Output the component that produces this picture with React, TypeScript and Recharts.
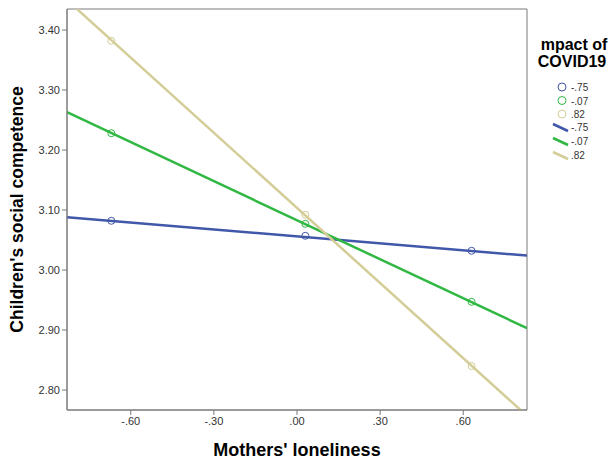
import React from 'react';
import { ComposedChart, Line, Scatter, XAxis, YAxis, Legend, Label, ReferenceArea } from 'recharts';

// fitted lines span the full x range of the plot
const lineX = [-0.83, 0.83];
const lowImpactLine = [3.088, 3.024];
const midImpactLine = [3.263, 2.903];
const highImpactLine = [3.45, 2.757];

// observed cell means at mothers' loneliness -1SD, mean, +1SD
const pointX = [-0.67, 0.03, 0.63];
const lowImpactPoints = [3.082, 3.057, 3.032];
const midImpactPoints = [3.228, 3.077, 2.947];
const highImpactPoints = [3.382, 3.092, 2.84];

const xTicks = [-0.6, -0.3, 0, 0.3, 0.6];
const yTicks = [2.8, 2.9, 3.0, 3.1, 3.2, 3.3, 3.4];
const groups = ['-.75', '-.07', '.82'];

const X_DOMAIN = [-0.83, 0.83];
const Y_DOMAIN = [2.7667, 3.435];

const COLORS = ['#4157a9', '#30b843', '#d4cd98'];
const FONT = '"Liberation Sans", Arial, sans-serif';

const toRows = (xs: number[], ys: number[]) => xs.map((x, i) => ({ x, y: ys[i] }));

const lines = [lowImpactLine, midImpactLine, highImpactLine].map(v => toRows(lineX, v));
const points = [lowImpactPoints, midImpactPoints, highImpactPoints].map(v => toRows(pointX, v));

const fmtX = (v: number) => v.toFixed(2).replace(/^(-?)0\./, '$1.');
const fmtY = (v: number) => v.toFixed(2);

const Ring = (color: string) => (props: any) => (
  <circle cx={props.cx} cy={props.cy} r={3.5} fill="none" stroke={color} strokeWidth={1} />
);

function LegendBox() {
  return (
    <svg width={84} height={170} style={{ fontFamily: FONT, display: 'block' }}>
      <text x={47} y={50} textAnchor="middle" fontSize={16} fontWeight="bold" fill="#000">mpact of</text>
      <text x={45} y={67} textAnchor="middle" fontSize={16} fontWeight="bold" fill="#000">COVID19</text>
      {groups.map((g, i) => (
        <g key={'c' + g}>
          <circle cx={35} cy={87 + i * 13.5} r={4} fill="none" stroke={COLORS[i]} strokeWidth={1} />
          <text x={44} y={91 + i * 13.5} fontSize={10} fill="#333">{g}</text>
        </g>
      ))}
      {groups.map((g, i) => (
        <g key={'l' + g}>
          <line x1={26} y1={124 + i * 14} x2={41} y2={131 + i * 14} stroke={COLORS[i]} strokeWidth={2.5} />
          <text x={44} y={131 + i * 14} fontSize={10} fill="#333">{g}</text>
        </g>
      ))}
    </svg>
  );
}

export default function App() {
  return (
    <div style={{ position: 'absolute', left: 0, top: 0, width: 611, height: 460, background: '#fff' }}>
      <ComposedChart
        width={611}
        height={460}
        margin={{ top: 9, right: 0, bottom: 0, left: 0 }}
        style={{ fontFamily: FONT }}
      >
        <XAxis
          xAxisId="b"
          dataKey="x"
          type="number"
          domain={X_DOMAIN}
          allowDataOverflow
          ticks={xTicks}
          tickFormatter={fmtX}
          height={50}
          stroke="#7a7a7a"
          tickSize={5}
          tick={{ fill: '#333', fontSize: 11 }}
        >
          <Label value="Mothers' loneliness" position="insideBottom" offset={4} style={{ fontSize: 18, fontWeight: 'bold', fill: '#000' }} />
        </XAxis>
        <YAxis
          yAxisId="l"
          type="number"
          domain={Y_DOMAIN}
          allowDataOverflow
          ticks={yTicks}
          tickFormatter={fmtY}
          width={67}
          stroke="#7a7a7a"
          tickSize={5}
          tick={{ fill: '#333', fontSize: 11 }}
        >
          <Label value="Children's social competence" angle={-90} position="insideLeft" offset={17} style={{ textAnchor: 'middle', fontSize: 17.5, fontWeight: 'bold', fill: '#000' }} />
        </YAxis>
        <ReferenceArea
          xAxisId="b"
          yAxisId="l"
          x1={X_DOMAIN[0]}
          x2={X_DOMAIN[1]}
          y1={Y_DOMAIN[0]}
          y2={Y_DOMAIN[1]}
          fill="none"
          fillOpacity={0}
          stroke="#7a7a7a"
          strokeWidth={1}
          ifOverflow="visible"
        />
        {lines.map((d, i) => (
          <Line
            key={'line' + i}
            xAxisId="b"
            yAxisId="l"
            data={d}
            dataKey="y"
            stroke={COLORS[i]}
            strokeWidth={2.5}
            dot={false}
            activeDot={false}
            isAnimationActive={false}
          />
        ))}
        {points.map((d, i) => (
          <Scatter
            key={'pts' + i}
            xAxisId="b"
            yAxisId="l"
            data={d}
            dataKey="y"
            shape={Ring(COLORS[i])}
            isAnimationActive={false}
          />
        ))}
        <Legend
          layout="vertical"
          align="right"
          verticalAlign="top"
          content={() => <LegendBox />}
          wrapperStyle={{ position: 'absolute', left: 527, top: 0, width: 84, margin: 0 }}
        />
      </ComposedChart>
    </div>
  );
}
